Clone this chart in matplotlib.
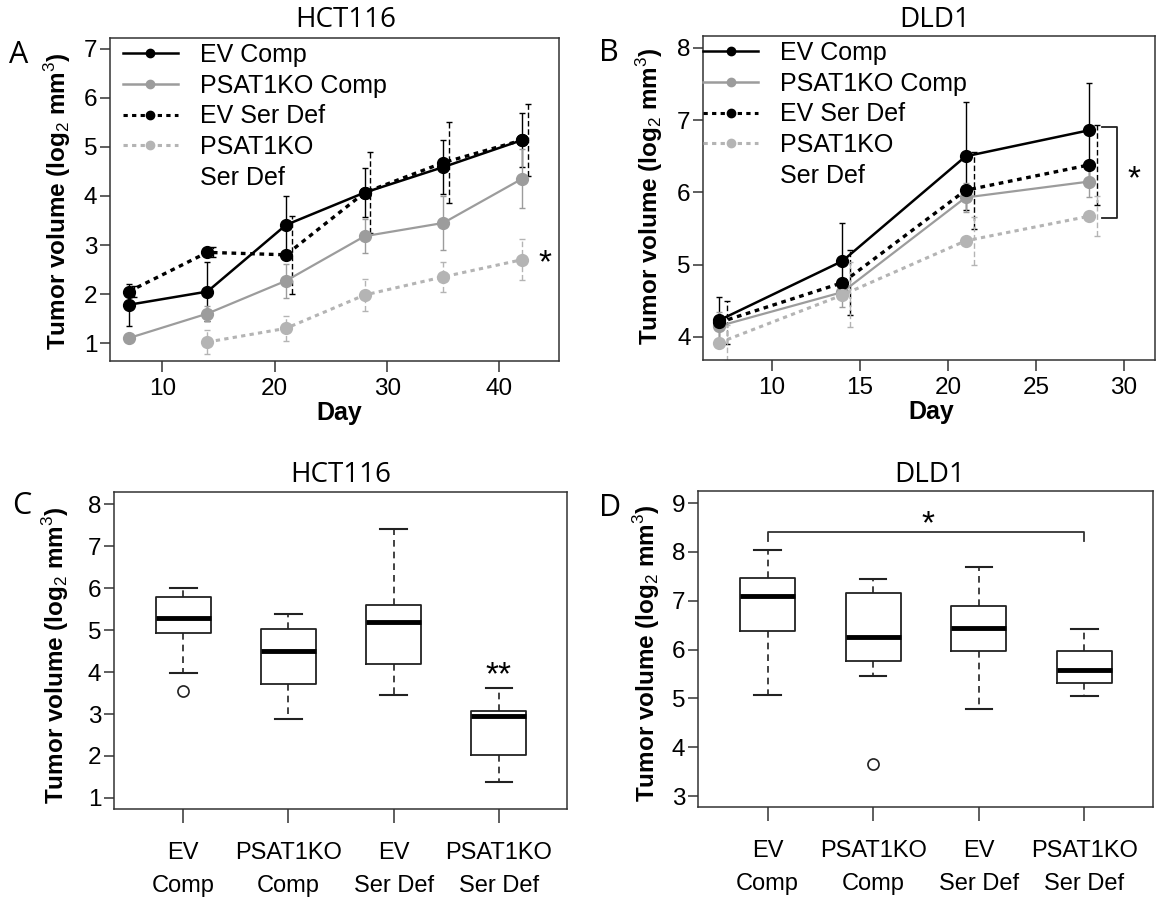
import numpy as np
import matplotlib
matplotlib.use("Agg")
import matplotlib.pyplot as plt
from matplotlib.lines import Line2D

plt.rcParams['font.family'] = ['Liberation Sans', 'DejaVu Sans']
plt.rcParams['mathtext.fontset'] = 'custom'
plt.rcParams['mathtext.rm'] = 'Liberation Sans'
plt.rcParams['mathtext.bf'] = 'Liberation Sans:bold'

# ---- data: growth curves ----
days_a = [7, 14, 21, 28, 35, 42]
ev_comp_a = [1.78, 2.05, 3.41, 4.07, 4.59, 5.14]
ev_comp_a_err = [0.43, 0.60, 0.60, 0.50, 0.55, 0.55]
psat_comp_a = [1.10, 1.60, 2.27, 3.18, 3.45, 4.35]
psat_comp_a_err = [0.05, 0.15, 0.35, 0.35, 0.55, 0.60]
ev_ser_a = [2.05, 2.85, 2.80, 4.07, 4.68, 5.14]
ev_ser_a_err = [0.12, 0.10, 0.80, 0.83, 0.82, 0.73]
psat_ser_a = [np.nan, 1.02, 1.30, 1.98, 2.35, 2.70]
psat_ser_a_err = [0, 0.25, 0.25, 0.32, 0.30, 0.42]

days_b = [7, 14, 21, 28]
ev_comp_b = [4.23, 5.05, 6.50, 6.86]
ev_comp_b_err = [0.32, 0.53, 0.75, 0.66]
psat_comp_b = [4.15, 4.62, 5.93, 6.15]
psat_comp_b_err = [0.20, 0.20, 0.20, 0.22]
ev_ser_b = [4.20, 4.75, 6.03, 6.38]
ev_ser_b_err = [0.30, 0.45, 0.53, 0.55]
psat_ser_b = [3.92, 4.58, 5.33, 5.67]
psat_ser_b_err = [0.25, 0.45, 0.33, 0.28]

series_names = ['EV Comp', 'PSAT1KO Comp', 'EV Ser Def', 'PSAT1KO']
groups = ['EV\nComp', 'PSAT1KO\nComp', 'EV\nSer Def', 'PSAT1KO\nSer Def']

# ---- data: day-end boxplots (whislo, q1, med, q3, whishi) ----
hct_whislo = [3.98, 2.87, 3.46, 1.37]
hct_q1 = [4.93, 3.71, 4.20, 2.02]
hct_med = [5.28, 4.50, 5.19, 2.96]
hct_q3 = [5.79, 5.02, 5.59, 3.08]
hct_whishi = [6.00, 5.38, 7.40, 3.62]
hct_fliers = [[3.55], [], [], []]

dld_whislo = [5.07, 5.46, 4.78, 5.05]
dld_q1 = [6.38, 5.77, 5.97, 5.32]
dld_med = [7.09, 6.25, 6.45, 5.58]
dld_q3 = [7.47, 7.16, 6.89, 5.97]
dld_whishi = [8.03, 7.44, 7.69, 6.43]
dld_fliers = [[], [3.65], [], []]

W, H = 1158, 900
fig = plt.figure(figsize=(W / 100, H / 100), dpi=100)


def px_axes(l, t, r, b):
    return fig.add_axes([l / W, 1 - b / H, (r - l) / W, (b - t) / H])


def ftext(x, y, s, **kw):
    fig.text(x / W, 1 - y / H, s, ha='center', va='center', **kw)


black = '#000000'
gray = '#9c9c9c'
lgray = '#b4b4b4'
dot = (0, (1.4, 1.4))
ylab = r'Tumor volume (log$_2$ mm$^3$)'


def style_axes(ax, xlen=8, xpad=4):
    for s in ax.spines.values():
        s.set_linewidth(1.1)
        s.set_color('#333333')
    ax.tick_params(axis='y', length=7, width=1.1, pad=2, labelsize=17.5, color='#333333')
    ax.tick_params(axis='x', length=xlen, width=1.1, pad=xpad, labelsize=17.5, color='#333333')


def curve(ax, x, y, err, color, ls, lw, off):
    x = np.array(x, dtype=float)
    eb = ax.errorbar(x + off, y, yerr=err, fmt='none', ecolor=color,
                     elinewidth=1.0, capsize=2.5, capthick=1.0, zorder=2)
    if ls != '-':
        eb[2][0].set_linestyle((0, (4, 2)))
    ax.plot(x, y, color=color, ls=ls, lw=lw, marker='o', ms=8.5, zorder=3)


def legend(ax, anchor):
    hs = [Line2D([], [], color=black, lw=1.8, marker='o', ms=6),
          Line2D([], [], color=gray, lw=1.8, marker='o', ms=6),
          Line2D([], [], color=black, lw=2.2, ls=dot, marker='o', ms=6),
          Line2D([], [], color=lgray, lw=2.2, ls=dot, marker='o', ms=6),
          Line2D([], [], color='none')]
    ax.legend(hs, series_names + ['Ser Def'], loc='upper left', bbox_to_anchor=anchor,
              frameon=False, fontsize=18, handlelength=2.2, handletextpad=0.9,
              labelspacing=0.27, borderpad=0, borderaxespad=0)


# ---- A ----
ax = px_axes(110, 38, 559, 361)
curve(ax, days_a, ev_comp_a, ev_comp_a_err, black, '-', 1.8, 0)
curve(ax, days_a, psat_comp_a, psat_comp_a_err, gray, '-', 1.6, 0)
curve(ax, days_a, ev_ser_a, ev_ser_a_err, black, dot, 2.4, 0.5)
curve(ax, days_a, psat_ser_a, psat_ser_a_err, lgray, dot, 2.2, 0)
ax.set_xlim(5.33, 45.3)
ax.set_ylim(0.633, 7.224)
ax.set_xticks([10, 20, 30, 40])
ax.set_yticks(range(1, 8))
style_axes(ax)
legend(ax, (0.028, 0.985))
ax.text(44.05, 2.62, '*', ha='center', va='center', fontsize=24)

# ---- B ----
ax = px_axes(703, 36, 1155, 360)
curve(ax, days_b, ev_comp_b, ev_comp_b_err, black, '-', 1.8, 0)
curve(ax, days_b, psat_comp_b, psat_comp_b_err, gray, '-', 1.6, 0)
curve(ax, days_b, ev_ser_b, ev_ser_b_err, black, dot, 2.4, 0.45)
curve(ax, days_b, psat_ser_b, psat_ser_b_err, lgray, dot, 2.2, 0.45)
ax.set_xlim(6.08, 31.76)
ax.set_ylim(3.68, 8.166)
ax.set_xticks([10, 15, 20, 25, 30])
ax.set_yticks(range(4, 9))
style_axes(ax)
legend(ax, (0.0, 0.985))
ax.plot([28.75, 29.6, 29.6, 28.75], [6.91, 6.91, 5.65, 5.65], color='#222222', lw=1.3)
ax.text(30.57, 6.18, '*', ha='center', va='center', fontsize=24)

# ---- C / D boxplots ----
def boxes(ax, lo, q1, med, q3, hi, fl):
    stats = [dict(whislo=lo[i], q1=q1[i], med=med[i], q3=q3[i], whishi=hi[i], fliers=fl[i])
             for i in range(len(med))]
    ax.bxp(stats, positions=[1, 2, 3, 4], widths=0.52, capwidths=0.25,
           boxprops=dict(lw=1.3, color='#222222'),
           whiskerprops=dict(lw=1.2, ls=(0, (4, 3)), color='#222222'),
           capprops=dict(lw=1.5, color='#222222'),
           medianprops=dict(lw=3.5, color='black'),
           flierprops=dict(marker='o', mfc='none', mec='#222222', ms=8, mew=1.2))
    ax.set_xlim(0.34, 4.65)
    ax.set_xticks([1, 2, 3, 4])
    ax.set_xticklabels(groups, fontsize=17, linespacing=1.6)


ax = px_axes(114, 492, 567, 809)
boxes(ax, hct_whislo, hct_q1, hct_med, hct_q3, hct_whishi, hct_fliers)
ax.set_ylim(0.738, 8.286)
ax.set_yticks(range(1, 9))
style_axes(ax, xlen=10, xpad=14)
ax.tick_params(axis='x', labelsize=17)
ax.text(4, 3.9, '**', ha='center', va='center', fontsize=24)

ax = px_axes(698, 491, 1153, 807)
boxes(ax, dld_whislo, dld_q1, dld_med, dld_q3, dld_whishi, dld_fliers)
ax.set_ylim(2.775, 9.246)
ax.set_yticks(range(3, 10))
style_axes(ax, xlen=10, xpad=14)
ax.tick_params(axis='x', labelsize=17)
ax.plot([1, 1, 4, 4], [8.22, 8.41, 8.41, 8.22], color='#333333', lw=1.3)
ax.text(2.52, 8.55, '*', ha='center', va='center', fontsize=24)

# ---- titles, axis labels, panel letters ----
tfont = ['Open Sans', 'DejaVu Sans']
for x, y, s in [(346, 20, 'HCT116'), (935, 20, 'DLD1'), (341, 475, 'HCT116'), (930, 475, 'DLD1')]:
    ftext(x, y, s, fontsize=20, family=tfont)
for x, y, s in [(19, 55, 'A'), (609, 53, 'B'), (22, 506, 'C'), (610, 508, 'D')]:
    ftext(x, y, s, fontsize=22, family=tfont)
for x, y in [(58, 201), (650, 196), (56, 655), (647, 653)]:
    ftext(x, y, ylab, fontsize=17.5, fontweight='bold', rotation=90)
for x, y in [(339, 413), (931, 412)]:
    ftext(x, y, 'Day', fontsize=18, fontweight='bold')

fig.savefig('out.png', dpi=100)
